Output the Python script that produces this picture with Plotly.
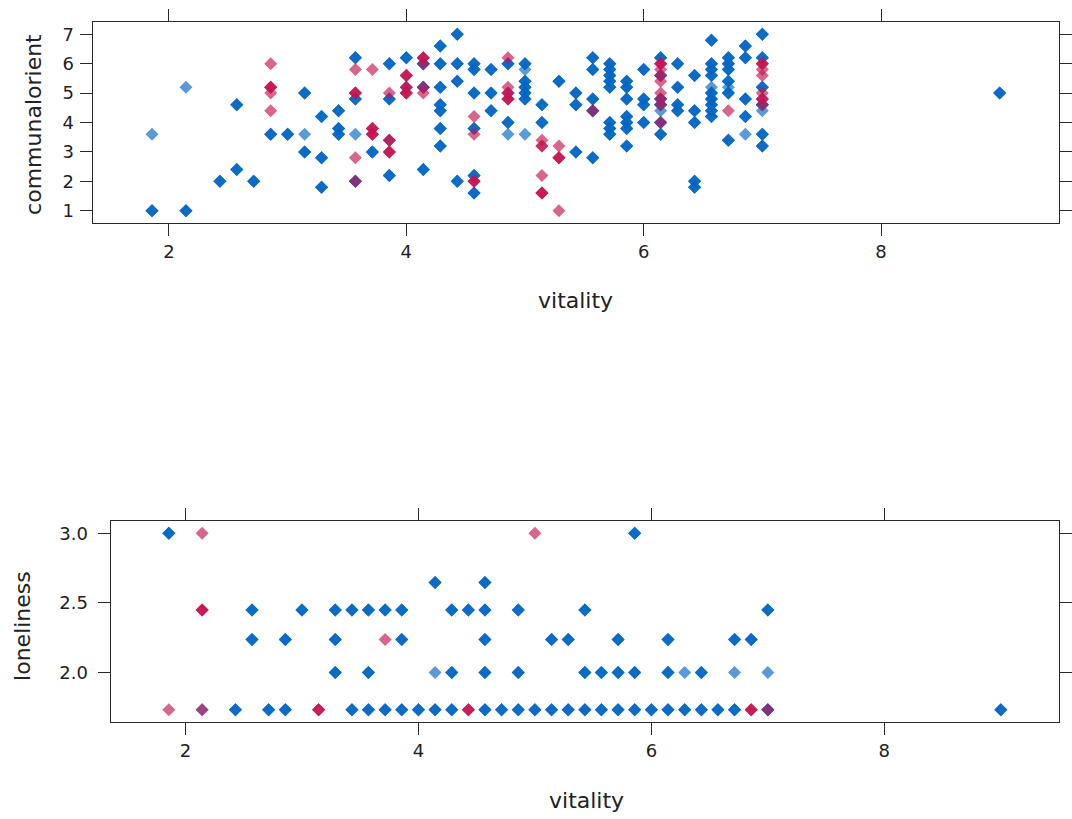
import plotly.graph_objects as go

# ---- data: (vitality, value, count of respondents at that position) ----
top_blue = [
    (1.857, 1.0, 3), (1.857, 3.6, 1),
    (2.143, 1.0, 3), (2.143, 5.2, 1),
    (2.429, 2.0, 3),
    (2.571, 4.6, 3), (2.571, 2.4, 3),
    (2.714, 2.0, 3),
    (2.857, 3.6, 3),
    (3.0, 3.6, 3),
    (3.143, 5.0, 3), (3.143, 3.6, 1), (3.143, 3.0, 3),
    (3.286, 4.2, 3), (3.286, 2.8, 3), (3.286, 1.8, 3),
    (3.429, 4.4, 3), (3.429, 3.8, 3), (3.429, 3.6, 3),
    (3.571, 6.2, 3), (3.571, 4.8, 3), (3.571, 3.6, 1), (3.571, 2.0, 3),
    (3.714, 3.0, 3),
    (3.857, 6.0, 3), (3.857, 4.8, 3), (3.857, 3.4, 1), (3.857, 2.2, 3),
    (4.0, 6.2, 3), (4.0, 5.2, 1),
    (4.143, 6.0, 3), (4.143, 5.2, 3), (4.143, 2.4, 3),
    (4.286, 6.6, 3), (4.286, 6.0, 3), (4.286, 5.2, 3), (4.286, 4.6, 3), (4.286, 4.4, 3), (4.286, 3.8, 3), (4.286, 3.2, 3),
    (4.429, 7.0, 3), (4.429, 6.0, 3), (4.429, 5.4, 3), (4.429, 2.0, 3),
    (4.571, 6.0, 3), (4.571, 5.8, 3), (4.571, 5.0, 3), (4.571, 3.8, 3), (4.571, 2.2, 3), (4.571, 1.6, 3),
    (4.714, 5.8, 3), (4.714, 5.0, 3), (4.714, 4.4, 3),
    (4.857, 6.0, 3), (4.857, 5.0, 1), (4.857, 4.0, 3), (4.857, 3.6, 1),
    (5.0, 6.0, 3), (5.0, 5.8, 1), (5.0, 5.4, 3), (5.0, 5.2, 3), (5.0, 5.0, 3), (5.0, 4.8, 3), (5.0, 3.6, 1),
    (5.143, 4.6, 3), (5.143, 4.0, 3),
    (5.286, 5.4, 3),
    (5.429, 5.0, 3), (5.429, 4.6, 3), (5.429, 3.0, 3),
    (5.571, 6.2, 3), (5.571, 5.8, 3), (5.571, 4.8, 3), (5.571, 4.4, 3), (5.571, 2.8, 3),
    (5.714, 6.0, 3), (5.714, 5.8, 3), (5.714, 5.6, 3), (5.714, 5.4, 3), (5.714, 5.2, 3), (5.714, 4.0, 3), (5.714, 3.8, 3), (5.714, 3.6, 3),
    (5.857, 5.4, 3), (5.857, 5.2, 3), (5.857, 4.8, 3), (5.857, 4.2, 3), (5.857, 4.0, 3), (5.857, 3.8, 3), (5.857, 3.2, 3),
    (6.0, 5.8, 3), (6.0, 4.8, 3), (6.0, 4.6, 3), (6.0, 4.0, 3),
    (6.143, 6.2, 3), (6.143, 5.6, 3), (6.143, 4.8, 3), (6.143, 4.6, 3), (6.143, 4.4, 1), (6.143, 4.0, 3), (6.143, 3.6, 3),
    (6.286, 6.0, 3), (6.286, 5.2, 3), (6.286, 4.6, 3), (6.286, 4.4, 3),
    (6.429, 5.6, 3), (6.429, 4.4, 3), (6.429, 4.0, 3), (6.429, 2.0, 3), (6.429, 1.8, 3),
    (6.571, 6.8, 3), (6.571, 6.0, 3), (6.571, 5.8, 3), (6.571, 5.6, 3), (6.571, 5.2, 1), (6.571, 5.0, 3),
    (6.571, 4.8, 3), (6.571, 4.6, 3), (6.571, 4.4, 3), (6.571, 4.2, 3),
    (6.714, 6.2, 3), (6.714, 6.0, 3), (6.714, 5.8, 3), (6.714, 5.4, 3), (6.714, 5.2, 1), (6.714, 5.0, 3), (6.714, 3.4, 3),
    (6.857, 6.6, 3), (6.857, 6.2, 3), (6.857, 4.8, 3), (6.857, 4.2, 3), (6.857, 3.6, 1),
    (7.0, 7.0, 3), (7.0, 6.2, 3), (7.0, 5.2, 3), (7.0, 4.6, 3), (7.0, 4.4, 1), (7.0, 3.6, 3), (7.0, 3.2, 3),
    (9.0, 5.0, 3),
]

top_red = [
    (2.857, 6.0, 1), (2.857, 5.2, 3), (2.857, 5.0, 1), (2.857, 4.4, 1),
    (3.571, 5.8, 1), (3.571, 5.0, 3), (3.571, 2.8, 1), (3.571, 2.0, 1),
    (3.714, 5.8, 1), (3.714, 3.8, 3), (3.714, 3.6, 3),
    (3.857, 5.0, 1), (3.857, 3.4, 2), (3.857, 3.0, 3),
    (4.0, 5.6, 3), (4.0, 5.2, 2), (4.0, 5.0, 3),
    (4.143, 6.2, 3), (4.143, 6.0, 1), (4.143, 5.2, 1), (4.143, 5.0, 1),
    (4.571, 4.2, 1), (4.571, 3.6, 1), (4.571, 2.0, 3),
    (4.857, 6.2, 1), (4.857, 5.2, 1), (4.857, 5.0, 2), (4.857, 4.8, 3),
    (5.143, 3.4, 1), (5.143, 3.2, 2), (5.143, 2.2, 1), (5.143, 1.6, 3),
    (5.286, 3.2, 1), (5.286, 2.8, 3), (5.286, 1.0, 1),
    (5.571, 4.4, 1),
    (6.143, 6.0, 3), (6.143, 5.8, 1), (6.143, 5.6, 1), (6.143, 5.4, 1), (6.143, 5.0, 1),
    (6.143, 4.8, 1), (6.143, 4.6, 1), (6.143, 4.0, 1),
    (6.714, 4.4, 1),
    (7.0, 6.0, 3), (7.0, 5.8, 1), (7.0, 5.6, 1), (7.0, 5.0, 1), (7.0, 4.8, 3), (7.0, 4.6, 1),
]

bottom_blue = [
    (1.857, 3.0, 3), (5.857, 3.0, 3),
    (4.143, 2.646, 3), (4.571, 2.646, 3),
    (2.571, 2.449, 3), (3.0, 2.449, 3), (3.286, 2.449, 3), (3.429, 2.449, 3), (3.571, 2.449, 3),
    (3.714, 2.449, 3), (3.857, 2.449, 3), (4.286, 2.449, 3), (4.429, 2.449, 3), (4.571, 2.449, 3),
    (4.857, 2.449, 3), (5.429, 2.449, 3), (7.0, 2.449, 3),
    (2.571, 2.236, 3), (2.857, 2.236, 3), (3.286, 2.236, 3), (3.857, 2.236, 3), (4.571, 2.236, 3),
    (5.143, 2.236, 3), (5.286, 2.236, 3), (5.714, 2.236, 3), (6.143, 2.236, 3), (6.714, 2.236, 3),
    (6.857, 2.236, 3),
    (3.286, 2.0, 3), (3.571, 2.0, 3), (4.143, 2.0, 1), (4.286, 2.0, 3), (4.571, 2.0, 3),
    (4.857, 2.0, 3), (5.429, 2.0, 3), (5.571, 2.0, 3), (5.714, 2.0, 3), (5.857, 2.0, 3),
    (6.143, 2.0, 3), (6.286, 2.0, 1), (6.429, 2.0, 3), (6.714, 2.0, 1), (7.0, 2.0, 1),
    (2.143, 1.732, 1), (2.429, 1.732, 3), (2.714, 1.732, 3), (2.857, 1.732, 3), (3.429, 1.732, 3),
    (3.571, 1.732, 3), (3.714, 1.732, 3), (3.857, 1.732, 3), (4.0, 1.732, 3), (4.143, 1.732, 3),
    (4.286, 1.732, 3), (4.571, 1.732, 3), (4.714, 1.732, 3), (4.857, 1.732, 3), (5.0, 1.732, 3),
    (5.143, 1.732, 3), (5.286, 1.732, 3), (5.429, 1.732, 3), (5.571, 1.732, 3), (5.714, 1.732, 3),
    (5.857, 1.732, 3), (6.0, 1.732, 3), (6.143, 1.732, 3), (6.286, 1.732, 3), (6.429, 1.732, 3),
    (6.571, 1.732, 3), (6.714, 1.732, 3), (7.0, 1.732, 3), (9.0, 1.732, 3),
]

bottom_red = [
    (2.143, 3.0, 1), (5.0, 3.0, 1),
    (2.143, 2.449, 3),
    (3.714, 2.236, 1),
    (1.857, 1.732, 1), (2.143, 1.732, 1), (3.143, 1.732, 3), (4.429, 1.732, 3),
    (6.857, 1.732, 3), (7.0, 1.732, 1),
]

x_ticks = [2, 4, 6, 8]
top_y_ticks = [1, 2, 3, 4, 5, 6, 7]
bottom_y_ticks = [2.0, 2.5, 3.0]

BLUE = "#0066C3"
RED = "#C41251"
ALPHA = 0.65
FONT = "DejaVu Sans, Liberation Sans, Arial, sans-serif"
W, H = 1072, 819


def expand(rows):
    xs, ys = [], []
    for x, y, n in rows:
        xs.extend([x] * n)
        ys.extend([y] * n)
    return xs, ys


fig = go.Figure()
for rows, color, xa, ya in [
    (top_blue, BLUE, "x", "y"), (top_red, RED, "x", "y"),
    (bottom_blue, BLUE, "x2", "y2"), (bottom_red, RED, "x2", "y2"),
]:
    xs, ys = expand(rows)
    fig.add_trace(go.Scatter(
        x=xs, y=ys, mode="markers", xaxis=xa, yaxis=ya, showlegend=False,
        marker=dict(symbol="diamond", size=10, color=color, opacity=ALPHA,
                    line=dict(width=0)),
    ))

axis_common = dict(
    showline=True, mirror="ticks", linecolor="#2a2a2a", linewidth=1,
    ticks="outside", ticklen=12, tickcolor="#2a2a2a", tickwidth=1,
    showgrid=False, zeroline=False,
    tickfont=dict(family=FONT, size=18, color="#222222"),
)

fig.update_layout(
    width=W, height=H,
    margin=dict(l=0, r=0, t=0, b=0),
    paper_bgcolor="white", plot_bgcolor="white",
    font=dict(family=FONT, color="#222222"),
    xaxis=dict(domain=[93 / W, 1063 / W], range=[1.357, 9.5], tickvals=x_ticks,
               anchor="y", **axis_common),
    yaxis=dict(domain=[(H - 223) / H, (H - 22) / H], range=[0.58, 7.42],
               tickvals=top_y_ticks, anchor="x", ticklabelstandoff=2, **axis_common),
    xaxis2=dict(domain=[111 / W, 1063 / W], range=[1.357, 9.5], tickvals=x_ticks,
                anchor="y2", **axis_common),
    yaxis2=dict(domain=[(H - 722) / H, (H - 521) / H], range=[1.643, 3.089],
                tickvals=bottom_y_ticks, tickformat=".1f", anchor="x2",
                ticklabelstandoff=6, **axis_common),
)

title_font = dict(family=FONT, size=22, color="#222222")
for text, px, py, angle in [
    ("communalorient", 33, 124, -90),
    ("vitality", 578, 300, 0),
    ("loneliness", 22, 626, -90),
    ("vitality", 589, 800, 0),
]:
    fig.add_annotation(text=text, x=px / W, y=(H - py) / H, xref="paper", yref="paper",
                       showarrow=False, textangle=angle, font=title_font,
                       xanchor="center", yanchor="middle")

fig.write_html("out.html")
